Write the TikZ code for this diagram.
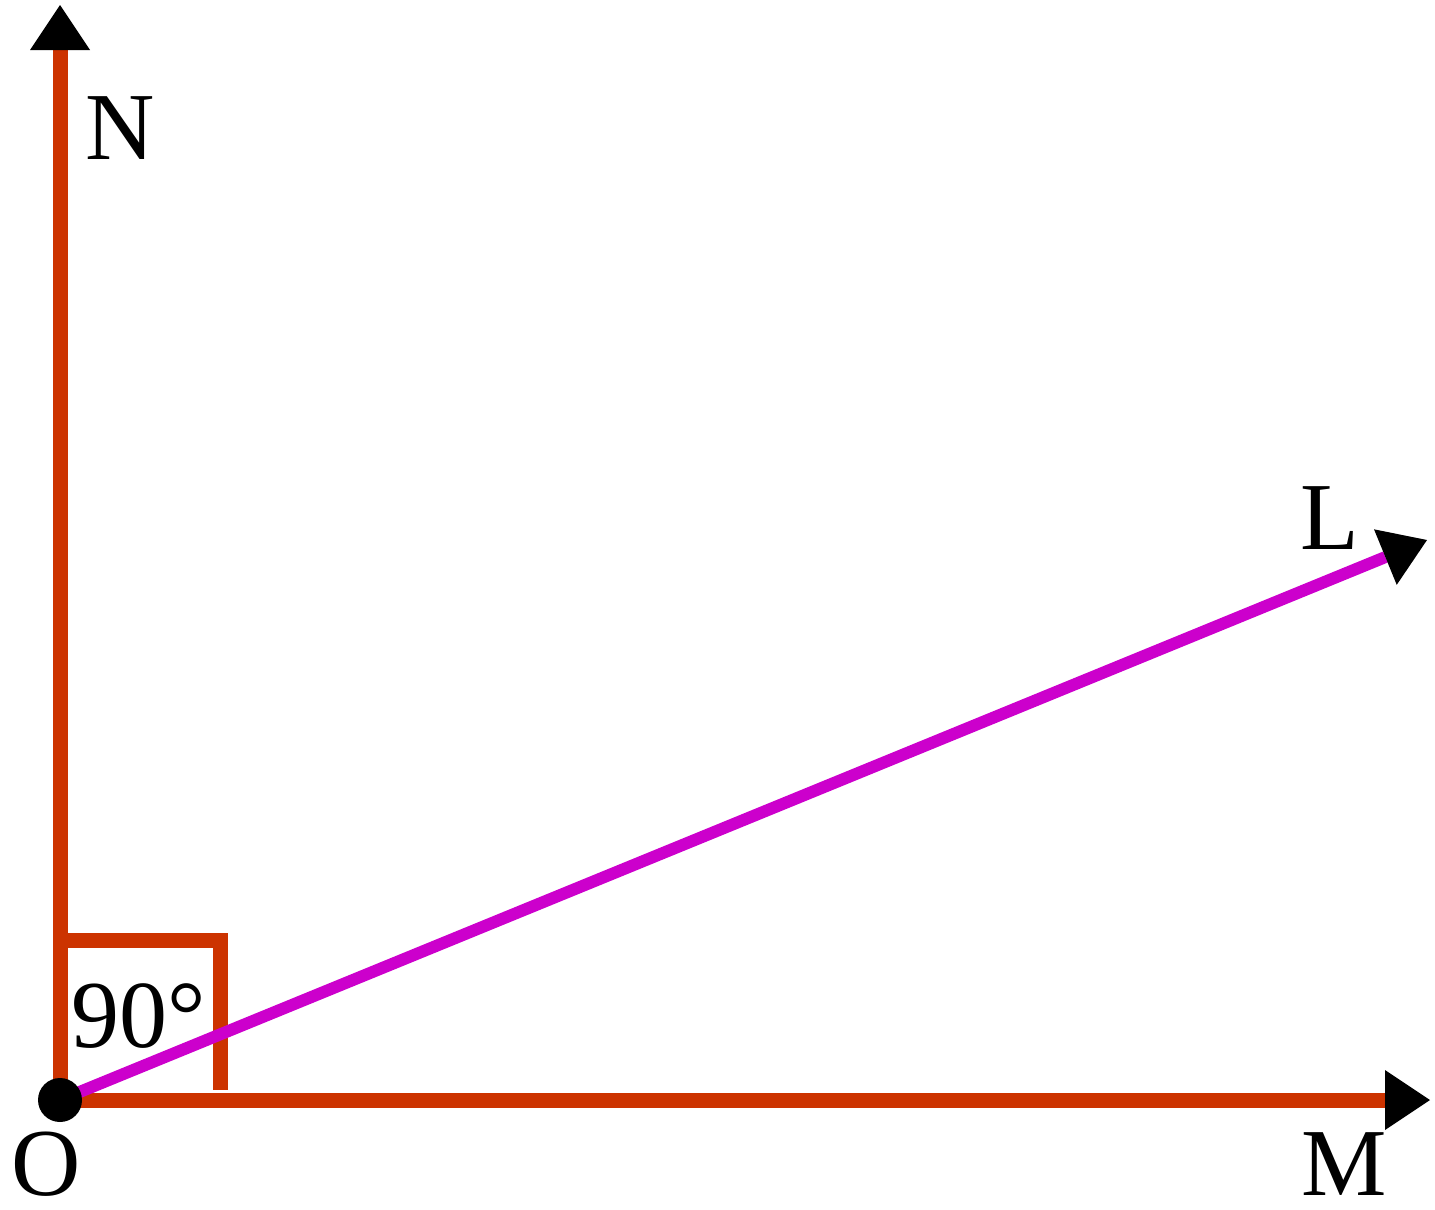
\documentclass[tikz,border=0pt]{standalone}
\usepackage{fontspec}
\setmainfont{Liberation Serif}
\usetikzlibrary{arrows.meta}
\definecolor{rayred}{RGB}{204,51,0}
\definecolor{raymag}{RGB}{204,0,204}
\begin{document}
\begin{tikzpicture}[x=1pt,y=-1pt,
  ray/.style={line width=15pt, rayred},
  tip/.style={-{Triangle[length=45pt,width=60pt,line width=0pt,color=black]}},
  lbl/.style={inner sep=0pt, font=\fontsize{96}{96}\selectfont}]
\useasboundingbox (0,0) rectangle (1435,1210);
\coordinate (O) at (60,1100);
\coordinate (N) at (60,5);
\coordinate (M) at (1430,1100);
\coordinate (L) at (1427,540);
\coordinate (B1) at (60,940);
\coordinate (B2) at (220,940);
\coordinate (B3) at (220,1090);
\draw[ray,tip] (O) -- (N);
\draw[ray,tip] (O) -- (M);
\draw[ray] (B1) -- (B2) -- (B3);
\draw[line width=12pt, raymag, tip] (O) -- (L);
\fill[black] (O) circle (22pt);
\node[lbl] (tN) at (120,128) {N};
\node[lbl] (t90) at (139,1016) {90°};
\node[lbl] (tO) at (46,1164) {O};
\node[lbl] (tL) at (1330,518) {L};
\node[lbl] (tM) at (1344,1164) {M};
\end{tikzpicture}
\end{document}
